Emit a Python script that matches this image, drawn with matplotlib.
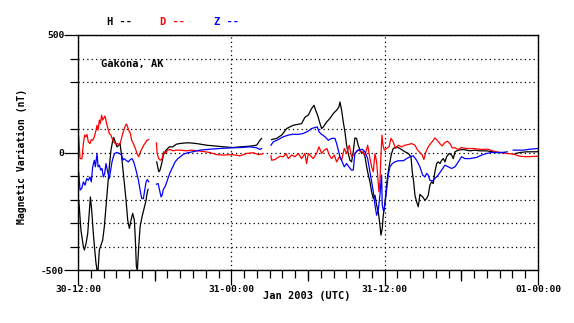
import numpy as np
import matplotlib
matplotlib.use("Agg")
import matplotlib.pyplot as plt
from matplotlib.ticker import FixedLocator

nan = np.nan

# hours after 30-12:00 UTC, values in nT (nan = data gap)
H_HOURS = [0.0, 0.05, 0.10, 0.23, 0.42, 0.50, 0.63, 0.76, 0.89, 0.97, 1.07, 1.20, 1.31, 1.41, 1.49,
           1.57, 1.67, 1.80, 1.93, 2.06, 2.19, 2.32, 2.45, 2.58, 2.72, 2.79, 2.92, 3.05, 3.19, 3.29,
           3.39, 3.50, 3.63, 3.76, 3.89, 4.02, 4.15, 4.28, 4.41, 4.49, 4.57, 4.65, 4.75, 4.86, 5.01,
           5.20, 5.33, 5.40, 5.48, 5.8, 6.16, 6.32, 6.42, 6.58, 6.68, 6.89, 7.15, 7.42, 7.68, 7.94,
           8.46, 8.76, 9.29, 10.07, 10.85, 11.37, 12.07, 12.68, 13.46, 13.98, 14.24, 14.37, 14.7,
           15.15, 15.54, 15.94, 16.33, 16.85, 17.50, 17.76, 18.02, 18.28, 18.47, 18.6, 18.75, 18.94,
           19.07, 19.2, 19.46, 19.72, 19.98, 20.24, 20.42, 20.5, 20.63, 20.76, 20.89, 21.02, 21.15,
           21.28, 21.41, 21.54, 21.67, 21.8, 21.93, 22.07, 22.2, 22.32, 22.46, 22.59, 22.72, 22.85,
           22.98, 23.11, 23.24, 23.37, 23.5, 23.63, 23.71, 23.81, 23.89, 23.97, 24.08, 24.18, 24.28,
           24.41, 24.54, 24.67, 24.93, 25.2, 25.59, 25.85, 26.06, 26.16, 26.27, 26.37, 26.5, 26.63,
           26.76, 26.97, 27.15, 27.28, 27.41, 27.54, 27.67, 27.8, 27.93, 28.07, 28.19, 28.33, 28.46,
           28.59, 28.72, 28.85, 29.05, 29.24, 29.37, 29.5, 29.76, 30.15, 30.67, 31.06, 31.46, 31.98,
           32.76, 33.4, 33.8, 34.2, 34.59, 35.11, 35.9, 36.0]
H_VALUES = [-220, -203, -231, -330, -401, -415, -387, -345, -245, -189, -245, -345, -415, -472, -500,
            -500, -415, -394, -373, -316, -231, -146, -61, 10, 52, 64, 45, 24, 31, 38,
            -4, -61, -132, -203, -288, -323, -288, -259, -288, -373, -486, -500, -401, -316, -274,
            -231, -203, -174, -157, nan, -40, -82, -75, -40, -11, 10, 24, 24, 35, 38,
            41, 41, 38, 31, 27, 24, 21, 24, 27, 31, 52, 60, nan,
            55, 60, 74, 102, 116, 123, 150, 159, 187, 201, 180, 159, 123,
            102, 109, 130, 145, 166, 180, 194, 215, 180, 130, 88, 31, -4,
            -33, -40, 3, 62, 60, 31, 10, -4, 3, -18, -61, -96, -125,
            -167, -196, -182, -224, -252, -309, -352, -323, -267, -238, -182, -125, -82,
            -40, -4, 17, 24, 17, 3, -4, -18, -82, -125, -182, -210, -231,
            -178, -189, -203, -196, -182, -139, -125, -132, -82, -47, -40, -47, -33,
            -26, -40, -18, -4, -11, -26, 3, 10, 13, 7, 10, 7, 7,
            0, 0, nan, -5, 0, 3, 3, 5]

D_HOURS = [0.05, 0.16, 0.31, 0.42, 0.52, 0.63, 0.7, 0.81, 0.94, 1.04, 1.15, 1.28, 1.41, 1.49, 1.57,
           1.67, 1.75, 1.85, 1.93, 2.01, 2.11, 2.19, 2.27, 2.38, 2.45, 2.58, 2.72, 2.85, 2.98, 3.11,
           3.24, 3.37, 3.5, 3.63, 3.76, 3.84, 3.97, 4.1, 4.2, 4.33, 4.49, 4.62, 4.75, 4.88, 5.01,
           5.14, 5.27, 5.4, 5.54, 5.8, 6.14, 6.19, 6.32, 6.45, 6.58, 6.71, 6.84, 7.02, 7.23, 7.42,
           7.68, 8.07, 8.46, 8.85, 9.55, 10.33, 10.85, 11.37, 12.07, 12.68, 13.2, 13.72, 14.11, 14.45,
           14.7, 15.1, 15.15, 15.41, 15.8, 16.07, 16.28, 16.46, 16.72, 16.98, 17.24, 17.5, 17.76,
           17.89, 18.02, 18.15, 18.41, 18.67, 18.86, 19.07, 19.27, 19.48, 19.67, 19.85, 20.06, 20.24,
           20.45, 20.63, 20.84, 21.02, 21.23, 21.41, 21.67, 21.93, 22.2, 22.46, 22.67, 22.85, 22.98,
           23.11, 23.24, 23.37, 23.45, 23.55, 23.63, 23.71, 23.79, 23.87, 23.97, 24.16, 24.34, 24.49,
           24.67, 24.86, 25.06, 25.33, 25.59, 25.85, 26.11, 26.37, 26.58, 26.76, 26.94, 27.07, 27.23,
           27.41, 27.6, 27.75, 27.93, 28.11, 28.32, 28.5, 28.72, 28.9, 29.11, 29.29, 29.5, 29.76,
           30.02, 30.41, 30.93, 31.59, 32.1, 32.5, 33.02, 33.54, 34.06, 34.59, 35.11, 35.94, 36.0]
D_VALUES = [69, -26, -26, 38, 74, 67, 77, 45, 38, 55, 52, 67, 95, 116, 95,
            138, 123, 159, 138, 145, 155, 138, 116, 95, 81, 74, 52, 41, 35, 38,
            31, 52, 81, 102, 121, 116, 95, 81, 52, 38, 17, -4, -18, 3, 17,
            31, 41, 52, 55, nan, 41, -4, -26, -33, -26, 3, -4, 10, 13, 7,
            10, 10, 7, 10, 6, 0, -9, -11, -9, -14, -4, -1, -9, -6,
            nan, -14, -33, -30, -16, -18, -4, -26, -11, -18, -4, -26, -4,
            -47, -4, -11, -26, -4, 24, -4, 10, 17, -11, -26, -11, -40,
            -18, -33, 17, -4, 31, -18, -4, 10, 3, -11, 31, -26, -61,
            -82, -4, -40, -96, -167, -125, -11, 74, 31, 10, 17, 24, 60,
            45, 17, 31, 24, 31, 34, 38, 31, 10, 0, -10, -30, 3,
            24, 38, 48, 62, 52, 38, 28, 43, 48, 38, 20, 20, 13,
            21, 17, 17, 13, 14, 6, 0, -4, -7, -16, -18, -16, -16]

Z_HOURS = [0.05, 0.16, 0.29, 0.42, 0.55, 0.68, 0.81, 0.94, 1.04, 1.15, 1.28, 1.36, 1.49, 1.57, 1.67,
           1.78, 1.88, 1.98, 2.09, 2.19, 2.32, 2.45, 2.56, 2.66, 2.77, 2.87, 3.03, 3.24, 3.42, 3.5,
           3.6, 3.76, 3.94, 4.1, 4.23, 4.36, 4.54, 4.73, 4.86, 4.99, 5.12, 5.22, 5.33, 5.43, 5.54,
           5.8, 6.14, 6.27, 6.37, 6.5, 6.58, 6.68, 6.81, 6.95, 7.08, 7.23, 7.42, 7.6, 7.81, 8.02,
           8.25, 8.59, 8.98, 9.55, 10.33, 11.11, 12.07, 12.68, 13.46, 13.98, 14.24, 14.37, 14.7,
           15.1, 15.28, 15.67, 16.07, 16.46, 16.85, 17.24, 17.63, 18.02, 18.28, 18.54, 18.73, 18.86,
           19.07, 19.33, 19.59, 19.85, 20.11, 20.24, 20.37, 20.5, 20.68, 20.84, 21.02, 21.2, 21.41,
           21.54, 21.67, 21.88, 22.07, 22.25, 22.46, 22.67, 22.85, 22.98, 23.11, 23.24, 23.37, 23.5,
           23.63, 23.76, 23.81, 23.92, 24.02, 24.16, 24.28, 24.41, 24.6, 24.8, 25.06, 25.46, 25.72,
           25.98, 26.24, 26.5, 26.76, 26.97, 27.15, 27.28, 27.41, 27.54, 27.75, 27.93, 28.19, 28.46,
           28.72, 28.98, 29.24, 29.5, 29.76, 30.02, 30.28, 30.67, 31.19, 31.59, 31.98, 32.37, 32.89,
           33.28, 33.59, 33.8, 34.06, 34.85, 35.37, 35.94, 36.0]
Z_VALUES = [-82, -160, -153, -125, -139, -111, -118, -104, -125, -61, -33, -61, -4, -61, -54,
            -75, -68, -104, -89, -47, -82, -111, -75, -40, -18, -4, 0, -4, -11, -33,
            -26, -33, -40, -30, -26, -40, -75, -118, -160, -196, -196, -160, -125, -115, -125,
            nan, -135, -132, -157, -189, -182, -157, -146, -125, -104, -82, -61, -40, -26, -18,
            -7, -1, 3, 10, 14, 17, 20, 21, 24, 20, 13, 17, nan,
            31, 45, 55, 67, 74, 78, 77, 81, 91, 102, 106, 109, 88,
            77, 67, 52, 60, 60, 38, 10, -18, -40, -61, -47, -61, -75,
            -75, -4, 10, 10, 14, 3, -26, -82, -125, -167, -224, -267, -245,
            -182, -96, -224, -252, -224, -153, -96, -61, -47, -40, -35, -35, -26,
            -18, -14, -33, -61, -96, -104, -89, -96, -118, -121, -111, -96, -75,
            -54, -61, -68, -61, -40, -18, -26, -26, -21, -11, -4, 0, 0,
            0, 3, nan, 10, 10, 14, 17, 17]

X_TICKS = [0, 12, 24, 36]
X_LABELS = ["30-12:00", "31-00:00", "31-12:00", "01-00:00"]
Y_MAJOR = [-500, 0, 500]
Y_MINOR = [-400, -300, -200, -100, 100, 300, 400]

FONT = "DejaVu Sans Mono"

fig = plt.figure(figsize=(5.74, 3.23), dpi=100)
ax = fig.add_axes([78 / 574, 53 / 323, 460 / 574, 235 / 323])

ax.plot(H_HOURS, H_VALUES, color="black", lw=0.9)
ax.plot(D_HOURS, D_VALUES, color="red", lw=0.9)
ax.plot(Z_HOURS, Z_VALUES, color="blue", lw=0.9)

ax.set_xlim(0, 36)
ax.set_ylim(-500, 500)

ax.set_xticks(X_TICKS)
ax.set_xticklabels(X_LABELS, fontfamily=FONT, fontsize=6.8, fontweight="bold")
ax.xaxis.set_minor_locator(FixedLocator(np.arange(0, 37, 1)))
ax.set_yticks(Y_MAJOR)
ax.set_yticklabels([str(v) for v in Y_MAJOR], fontfamily=FONT, fontsize=6.8, fontweight="bold")
ax.yaxis.set_minor_locator(FixedLocator(Y_MINOR))

ax.tick_params(axis="x", which="major", direction="out", length=11, width=0.9, pad=0)
ax.tick_params(axis="x", which="minor", direction="out", length=6, width=0.9)
ax.tick_params(axis="y", which="major", direction="out", length=10, width=0.9, pad=0)
ax.tick_params(axis="y", which="minor", direction="out", length=6, width=0.9)

# longer ticks every 6 hours
sec = ax.secondary_xaxis("bottom")
sec.set_xticks([6, 18, 30])
sec.set_xticklabels([])
sec.tick_params(direction="out", length=8, width=0.9)
sec.spines["bottom"].set_visible(False)

ax.grid(axis="x", which="major", color="black", linestyle=(0, (1, 2.5)), lw=0.9)
ax.grid(axis="y", which="both", color="black", linestyle=(0, (1, 2.5)), lw=0.9)

for s in ax.spines.values():
    s.set_linewidth(1.0)

ax.text(0.05, 0.877, "Gakona, AK", transform=ax.transAxes, fontfamily=FONT,
        fontsize=7.5, fontweight="bold", va="center", ha="left")

fig.text(107 / 574, 0.932, "H --", color="black", fontfamily=FONT, fontsize=7.5,
         fontweight="bold", va="center")
fig.text(160 / 574, 0.932, "D --", color="red", fontfamily=FONT, fontsize=7.5,
         fontweight="bold", va="center")
fig.text(214 / 574, 0.932, "Z --", color="blue", fontfamily=FONT, fontsize=7.5,
         fontweight="bold", va="center")

fig.text(22 / 574, 0.515, "Magnetic Variation (nT)", rotation=90, fontfamily=FONT,
         fontsize=7, fontweight="bold", va="center", ha="center")
fig.text(307 / 574, 0.084, "Jan 2003 (UTC)", fontfamily=FONT, fontsize=7.5,
         fontweight="bold", va="center", ha="center")

fig.savefig("out.png", dpi=100)
